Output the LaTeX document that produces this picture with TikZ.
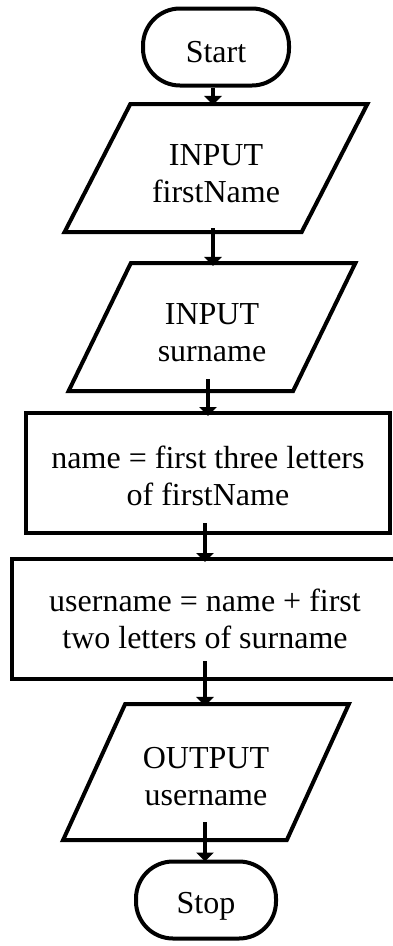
\documentclass[tikz,border=0pt]{standalone}
\usepackage{fontspec}
\setmainfont{Liberation Serif}
\usetikzlibrary{shapes.geometric,arrows.meta}

\begin{document}
\begin{tikzpicture}[x=1pt,y=-1pt,
    terminal/.style={draw,line width=4pt,rounded corners=37pt,minimum width=146pt,minimum height=77pt},
    iobox/.style={draw,line width=4pt,trapezium,trapezium left angle=69,trapezium right angle=111,trapezium stretches=true},
    procbox/.style={draw,line width=4pt},
    boxtext/.style={align=center,font=\fontsize{32}{37}\selectfont},
    flow/.style={line width=4pt,-{Triangle[length=9pt,width=17pt]}}]
        \clip (0,0) rectangle (393,946);
        \node[terminal,label={[boxtext,yshift=-5pt]center:Start}] (start) at (216,47) {};
        \node[iobox,minimum width=303pt,minimum height=128pt,label={[boxtext,yshift=-6pt]center:INPUT\\firstName}] (inFirst) at (216,168) {};
        \node[iobox,minimum width=287pt,minimum height=128pt,label={[boxtext,yshift=-6pt]center:INPUT\\surname}] (inSur) at (212,327) {};
        \node[procbox,minimum width=364pt,minimum height=120pt,label={[boxtext,yshift=-3pt]center:name = first three letters\\of firstName}] (makeName) at (208,473) {};
        \node[procbox,minimum width=386pt,minimum height=120pt,label={[boxtext]center:username = name + first\\two letters of surname}] (makeUser) at (205,619) {};
        \node[iobox,minimum width=286pt,minimum height=136pt,label={[boxtext,yshift=-5pt]center:OUTPUT\\username}] (outUser) at (206,772) {};
        \node[terminal,minimum width=140pt,label={[boxtext,yshift=-6pt]center:Stop}] (stop) at (206,900) {};
        \draw[flow,shorten >=-3pt] ([xshift=-3pt]start.south) -- ([xshift=-3pt]start.south |- inFirst.north);
        \draw[flow,shorten <=-6pt,shorten >=-5pt] ([xshift=-3pt]inFirst.south) -- ([xshift=-3pt]inFirst.south |- inSur.north);
        \draw[flow,shorten <=-14pt,shorten >=-5pt] ([xshift=-4pt]inSur.south) -- ([xshift=-4pt]inSur.south |- makeName.north);
        \draw[flow,shorten <=-12pt,shorten >=-5pt] ([xshift=-3pt]makeName.south) -- ([xshift=-3pt]makeName.south |- makeUser.north);
        \draw[flow,shorten <=-20pt,shorten >=-4pt] (makeUser.south) -- (makeUser.south |- outUser.north);
        \draw[flow,shorten <=-20pt,shorten >=-2pt] ([xshift=-1pt]outUser.south) -- ([xshift=-1pt]outUser.south |- stop.north);
      \end{tikzpicture}
\end{document}
